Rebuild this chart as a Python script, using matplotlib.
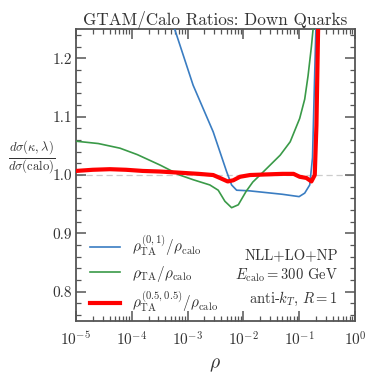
import numpy as np
import matplotlib
matplotlib.use("Agg")
import matplotlib.pyplot as plt
from matplotlib.ticker import LogLocator, MultipleLocator, NullFormatter

plt.rcParams['mathtext.fontset'] = 'cm'
plt.rcParams['font.family'] = ['cmr10', 'DejaVu Serif']
plt.rcParams['axes.unicode_minus'] = False

# log10(rho) positions and ratio values
blue_lr = [-3.5, -3.23, -2.90, -2.54, -2.42, -2.30, -2.21, -2.12, -1.9, -1.6, -1.3,
           -1.0, -0.90, -0.81, -0.76, -0.73, -0.70, -0.67]
blue_val = [1.31, 1.25, 1.154, 1.074, 1.04, 1.006, 0.983, 0.974, 0.973, 0.970, 0.967,
            0.963, 0.969, 0.983, 1.03, 1.14, 1.25, 1.35]

green_lr = [-5.0, -4.6, -4.21, -3.9, -3.49, -3.14, -2.9, -2.6, -2.45, -2.33, -2.21,
            -2.09, -1.95, -1.83, -1.70, -1.52, -1.34, -1.16, -0.99, -0.90, -0.84,
            -0.78, -0.75, -0.72]
green_val = [1.058, 1.054, 1.046, 1.035, 1.017, 1.000, 0.992, 0.983, 0.974, 0.955, 0.944,
             0.949, 0.972, 0.988, 1.000, 1.017, 1.034, 1.057, 1.097, 1.13, 1.17,
             1.22, 1.25, 1.30]

red_lr = [-5.0, -4.7, -4.39, -4.1, -3.8, -3.49, -3.14, -2.8, -2.54, -2.42, -2.28,
          -2.18, -2.06, -1.88, -1.6, -1.3, -1.1, -0.99, -0.87, -0.78, -0.72,
          -0.69, -0.66, -0.64]
red_val = [1.007, 1.009, 1.010, 1.009, 1.007, 1.006, 1.004, 1.002, 1.000, 0.995, 0.989,
           0.991, 0.997, 1.000, 1.001, 1.002, 1.002, 0.997, 0.995, 0.989, 1.000,
           1.085, 1.25, 1.35]

labels = [r'$\rho_{\mathrm{TA}}^{(0,1)}/\rho_{\mathrm{calo}}$',
          r'$\rho_{\mathrm{TA}}/\rho_{\mathrm{calo}}$',
          r'$\rho_{\mathrm{TA}}^{(0.5,0.5)}/\rho_{\mathrm{calo}}$']

fig = plt.figure(figsize=(3.74, 3.74), dpi=100)
ax = fig.add_axes([0.203, 0.142, 0.746, 0.780])

ax.axhline(1.0, color='#cccccc', lw=0.9, ls=(0, (5, 3)), zorder=1)
ax.plot(10 ** np.array(blue_lr), blue_val, color='#3a7dc2', lw=1.2, label=labels[0], zorder=3)
ax.plot(10 ** np.array(green_lr), green_val, color='#3a9a48', lw=1.2, label=labels[1], zorder=3)
ax.plot(10 ** np.array(red_lr), red_val, color='#ff0000', lw=3.0, label=labels[2], zorder=4)

ax.set_xscale('log')
ax.set_xlim(1e-5, 1)
ax.set_ylim(0.75, 1.25)
ax.yaxis.set_minor_locator(MultipleLocator(0.02))
ax.xaxis.set_major_locator(LogLocator(base=10, numticks=10))
ax.xaxis.set_minor_locator(LogLocator(base=10, subs=np.arange(2, 10), numticks=20))
ax.xaxis.set_minor_formatter(NullFormatter())
ax.set_yticks([0.8, 0.9, 1.0, 1.1, 1.2])
ax.set_yticklabels(['0.8', '0.9', '1.0', '1.1', '1.2'])

sc = '#555555'
for s in ax.spines.values():
    s.set_color(sc)
    s.set_linewidth(1.3)
ax.tick_params(which='both', direction='in', top=True, right=True, colors=sc,
               labelcolor='#333333', labelsize=11)
ax.tick_params(axis='x', which='major', pad=7)
ax.tick_params(axis='y', which='major', pad=3)
ax.tick_params(which='major', length=7, width=1.1)
ax.tick_params(which='minor', length=3.5, width=0.9)

ax.set_title('GTAM/Calo Ratios: Down Quarks', fontsize=12.3, color='#333333', pad=3,
             fontfamily='cmr10')
ax.set_xlabel(r'$\rho$', fontsize=14, color='#333333', labelpad=5)
fig.text(32 / 374, 1 - 158 / 374, r'$\frac{d\sigma(\kappa,\lambda)}{d\sigma(\mathrm{calo})}$',
         fontsize=13, ha='center', va='center', color='#333333')

leg = ax.legend(loc='lower left', bbox_to_anchor=(0.0, -0.025), frameon=False, fontsize=11,
                handlelength=2.0, handletextpad=0.8, labelspacing=0.38)
for t in leg.get_texts():
    t.set_color('#333333')

ax.text(0.94, 0.045, 'NLL+LO+NP\n' + r'$E_{\mathrm{calo}}=300$ GeV'
        + '\n' + r'anti-$k_T$, $R=1$', transform=ax.transAxes, ha='right', va='bottom',
        fontsize=10.5, color='#333333', linespacing=1.4, multialignment='right',
        fontfamily='cmr10')

fig.savefig('out.png', dpi=100)
